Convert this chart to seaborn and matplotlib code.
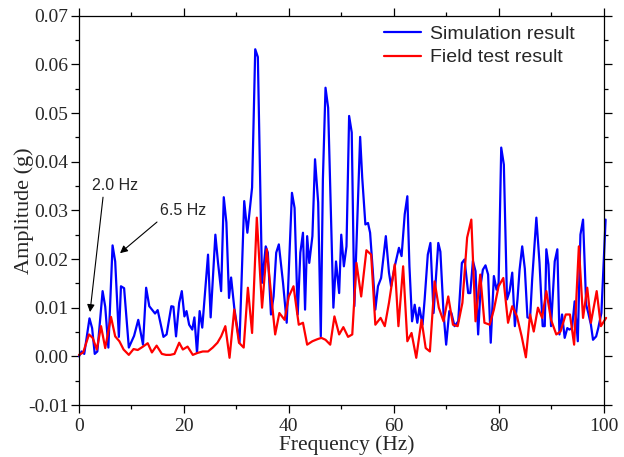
import numpy as np
import pandas as pd
import matplotlib
matplotlib.use("Agg")
import matplotlib.pyplot as plt
import seaborn as sns
from matplotlib.ticker import MultipleLocator, FormatStrFormatter

# ---------------- data ----------------
sim_freq = [0.0, 0.5, 1.0, 2.0, 2.5, 3.0, 3.5, 4.5, 5.0, 5.6, 6.4, 6.9, 7.6, 8.0, 8.6,
            9.5, 10.5, 11.3, 12.2, 12.8, 13.4, 14.0, 14.5, 15.0, 15.5, 16.1, 16.7, 17.6,
            18.0, 18.5, 19.1, 19.6, 20.1, 20.5, 21.0, 21.6, 22.0, 22.5, 23.0, 23.5, 24.6,
            25.1, 26.0, 26.5, 27.1, 27.6, 28.1, 28.6, 29.0, 29.6, 30.6, 31.5, 32.1, 33.0,
            33.6, 34.1, 34.9, 35.6, 36.0, 36.6, 37.1, 37.6, 38.1, 38.9, 39.6, 40.6, 41.1,
            41.7, 42.2, 42.7, 43.1, 43.5, 43.9, 44.5, 45.0, 45.6, 46.1, 46.5, 47.0, 47.5,
            48.5, 49.0, 49.6, 50.0, 50.5, 51.0, 51.5, 52.0, 52.5, 53.6, 54.0, 54.6, 55.1,
            55.5, 56.0, 56.5, 57.0, 57.6, 58.5, 59.1, 59.5, 60.2, 61.0, 61.5, 62.1, 62.6,
            63.0, 63.5, 64.0, 64.5, 64.9, 65.5, 65.9, 66.5, 67.0, 67.6, 68.5, 68.9, 69.5,
            70.0, 70.6, 71.0, 71.6, 72.3, 73.0, 73.5, 74.2, 74.6, 75.1, 75.6, 76.1, 76.6,
            77.0, 77.5, 78.0, 78.5, 79.1, 79.6, 80.0, 80.5, 81.0, 81.6, 82.1, 82.6, 83.1,
            83.6, 84.0, 84.5, 85.0, 85.5, 86.0, 86.4, 87.2, 87.8, 88.4, 88.8, 89.1, 89.5,
            90.0, 90.7, 91.2, 91.6, 92.1, 92.6, 93.1, 93.5, 94.0, 94.5, 95.1, 95.6, 96.1,
            96.7, 97.1, 97.6, 98.0, 98.6, 99.0, 99.6, 100.4]
sim_amp = [0.0000, 0.0010, 0.0005, 0.0078, 0.0058, 0.0005, 0.0010, 0.0134, 0.0102, 0.0018,
           0.0228, 0.0195, 0.0040, 0.0144, 0.0140, 0.0018, 0.0042, 0.0075, 0.0024, 0.0141,
           0.0103, 0.0095, 0.0088, 0.0095, 0.0070, 0.0040, 0.0045, 0.0103, 0.0102, 0.0041,
           0.0110, 0.0134, 0.0082, 0.0093, 0.0065, 0.0055, 0.0080, 0.0007, 0.0093, 0.0059,
           0.0209, 0.0080, 0.0250, 0.0193, 0.0134, 0.0327, 0.0275, 0.0120, 0.0162, 0.0100,
           0.0028, 0.0319, 0.0254, 0.0347, 0.0631, 0.0615, 0.0151, 0.0226, 0.0213, 0.0086,
           0.0123, 0.0213, 0.0230, 0.0151, 0.0069, 0.0336, 0.0305, 0.0086, 0.0213, 0.0254,
           0.0096, 0.0247, 0.0192, 0.0247, 0.0405, 0.0316, 0.0041, 0.0364, 0.0552, 0.0511,
           0.0100, 0.0195, 0.0130, 0.0250, 0.0185, 0.0226, 0.0494, 0.0460, 0.0103, 0.0451,
           0.0367, 0.0271, 0.0274, 0.0254, 0.0178, 0.0096, 0.0144, 0.0161, 0.0247, 0.0172,
           0.0144, 0.0185, 0.0223, 0.0206, 0.0292, 0.0329, 0.0185, 0.0072, 0.0106, 0.0069,
           0.0100, 0.0065, 0.0117, 0.0209, 0.0233, 0.0089, 0.0233, 0.0215, 0.0089, 0.0024,
           0.0093, 0.0089, 0.0062, 0.0072, 0.0192, 0.0199, 0.0130, 0.0130, 0.0196, 0.0175,
           0.0045, 0.0148, 0.0178, 0.0187, 0.0168, 0.0028, 0.0165, 0.0137, 0.0151, 0.0429,
           0.0394, 0.0117, 0.0134, 0.0172, 0.0062, 0.0117, 0.0178, 0.0226, 0.0180, 0.0080,
           0.0078, 0.0158, 0.0285, 0.0192, 0.0062, 0.0062, 0.0220, 0.0189, 0.0062, 0.0195,
           0.0220, 0.0045, 0.0086, 0.0038, 0.0058, 0.0055, 0.0058, 0.0113, 0.0031, 0.0250,
           0.0281, 0.0106, 0.0089, 0.0065, 0.0034, 0.0041, 0.0058, 0.0089, 0.0281]

field_freq = [0.0, 0.8, 1.9, 2.6, 3.4, 4.2, 5.0, 6.1, 6.9, 7.7, 8.5, 9.5, 10.4, 11.2, 12.2,
              13.1, 13.9, 14.8, 15.8, 16.6, 17.4, 18.2, 19.1, 19.8, 20.7, 21.7, 22.6, 23.6,
              24.6, 25.5, 26.4, 27.1, 27.9, 28.7, 29.6, 30.5, 31.4, 32.2, 33.0, 33.9, 34.9,
              35.8, 36.6, 37.4, 38.2, 39.2, 40.0, 40.9, 41.9, 42.7, 43.5, 44.5, 45.4, 46.2,
              47.0, 47.9, 48.7, 49.6, 50.4, 51.3, 52.1, 52.9, 53.8, 54.8, 55.7, 56.5, 57.5,
              58.3, 59.1, 60.2, 60.9, 61.8, 62.6, 63.4, 64.3, 65.3, 66.1, 66.9, 67.8, 68.6,
              69.5, 70.4, 71.3, 72.2, 73.1, 74.0, 74.8, 75.6, 76.5, 77.3, 78.3, 79.1, 80.0,
              80.9, 81.8, 82.6, 83.5, 84.4, 85.2, 86.0, 86.7, 87.5, 88.3, 89.1, 90.0, 91.0,
              91.8, 92.8, 93.6, 94.4, 95.3, 96.1, 96.9, 97.6, 98.7, 99.5, 100.5]
field_amp = [0.0003, 0.0008, 0.0045, 0.0038, 0.0014, 0.0062, 0.0017, 0.0081, 0.0041, 0.0031,
             0.0014, 0.0003, 0.0015, 0.0013, 0.0020, 0.0027, 0.0008, 0.0022, 0.0005, 0.0003,
             0.0003, 0.0005, 0.0028, 0.0014, 0.0020, 0.0003, 0.0007, 0.0010, 0.0010, 0.0018,
             0.0028, 0.0041, 0.0062, -0.0003, 0.0096, 0.0028, 0.0018, 0.0141, 0.0048, 0.0285,
             0.0100, 0.0220, 0.0130, 0.0045, 0.0089, 0.0075, 0.0123, 0.0144, 0.0065, 0.0069,
             0.0024, 0.0031, 0.0035, 0.0038, 0.0034, 0.0024, 0.0082, 0.0045, 0.0060, 0.0040,
             0.0045, 0.0192, 0.0123, 0.0218, 0.0209, 0.0065, 0.0079, 0.0062, 0.0110, 0.0189,
             0.0062, 0.0185, 0.0031, 0.0048, -0.0003, 0.0075, 0.0017, 0.0010, 0.0154, 0.0100,
             0.0072, 0.0123, 0.0065, 0.0062, 0.0110, 0.0244, 0.0281, 0.0072, 0.0168, 0.0069,
             0.0065, 0.0096, 0.0144, 0.0161, 0.0069, 0.0103, 0.0082, 0.0041, -0.0002, 0.0086,
             0.0051, 0.0100, 0.0079, 0.0134, 0.0075, 0.0045, 0.0051, 0.0086, 0.0086, 0.0024,
             0.0226, 0.0079, 0.0141, 0.0069, 0.0134, 0.0062, 0.0079]

series_labels = ["Simulation result", "Field test result"]
x_ticks = [0, 20, 40, 60, 80, 100]
y_ticks = [-0.01, 0.00, 0.01, 0.02, 0.03, 0.04, 0.05, 0.06, 0.07]

sim_df = pd.DataFrame({"Frequency": sim_freq, "Amplitude": sim_amp})
field_df = pd.DataFrame({"Frequency": field_freq, "Amplitude": field_amp})

# ---------------- styling ----------------
sns.set_style("ticks")
plt.rcParams["font.family"] = ["Liberation Serif", "DejaVu Serif"]
plt.rcParams["axes.unicode_minus"] = False

W, H = 624, 457
fig = plt.figure(figsize=(W / 100, H / 100), dpi=100)
ax = fig.add_axes([79 / W, 52 / H, 524.5 / W, 389.3 / H])

sns.lineplot(data=sim_df, x="Frequency", y="Amplitude", ax=ax, color="#0000FF",
             lw=1.6, estimator=None, sort=False, label=series_labels[0])
sns.lineplot(data=field_df, x="Frequency", y="Amplitude", ax=ax, color="#FF0000",
             lw=1.6, estimator=None, sort=False, label=series_labels[1])
for ln in ax.lines:
    ln.set_clip_on(False)

ax.set_xlim(0, 100)
ax.set_ylim(-0.01, 0.07)
ax.set_xticks(x_ticks)
ax.set_yticks(y_ticks)
ax.xaxis.set_minor_locator(MultipleLocator(10))
ax.yaxis.set_minor_locator(MultipleLocator(0.005))
ax.yaxis.set_major_formatter(FormatStrFormatter("%.2f"))
ax.tick_params(which="both", direction="out", top=True, right=True,
               labeltop=False, labelright=False, width=0.9, color="black")
ax.tick_params(which="major", length=5.5, labelsize=14)
ax.tick_params(axis="y", which="major", pad=2)
ax.tick_params(axis="x", which="major", pad=4)
ax.tick_params(which="minor", length=3)
for sp in ax.spines.values():
    sp.set_visible(True)
    sp.set_linewidth(0.9)
    sp.set_color("black")

ax.set_xlabel("Frequency (Hz)", fontsize=15.5)
ax.set_ylabel("Amplitude (g)", fontsize=16)
ax.xaxis.set_label_coords(0.51, -0.078)
ax.yaxis.set_label_coords(-0.086, 0.5)

leg = ax.legend(loc="upper left", bbox_to_anchor=(0.555, 1.01), frameon=False,
                prop={"family": "Liberation Sans", "size": 14}, handlelength=1.9,
                handletextpad=0.5, labelspacing=0.3, borderpad=0.2)

# annotations
arrow = dict(arrowstyle="-|>", color="black", lw=0.8, mutation_scale=11,
             shrinkA=0, shrinkB=0)
ax.annotate("", xy=(2.1, 0.0091), xytext=(4.58, 0.0327), arrowprops=arrow)
ax.text(2.48, 0.0352, "2.0 Hz", ha="left", va="center", fontsize=11.5,
        family="Liberation Sans")
ax.annotate("", xy=(7.82, 0.0212), xytext=(14.87, 0.0276), arrowprops=arrow)
ax.text(15.44, 0.0299, "6.5 Hz", ha="left", va="center", fontsize=11.5,
        family="Liberation Sans")

fig.savefig("out.png", dpi=100)
